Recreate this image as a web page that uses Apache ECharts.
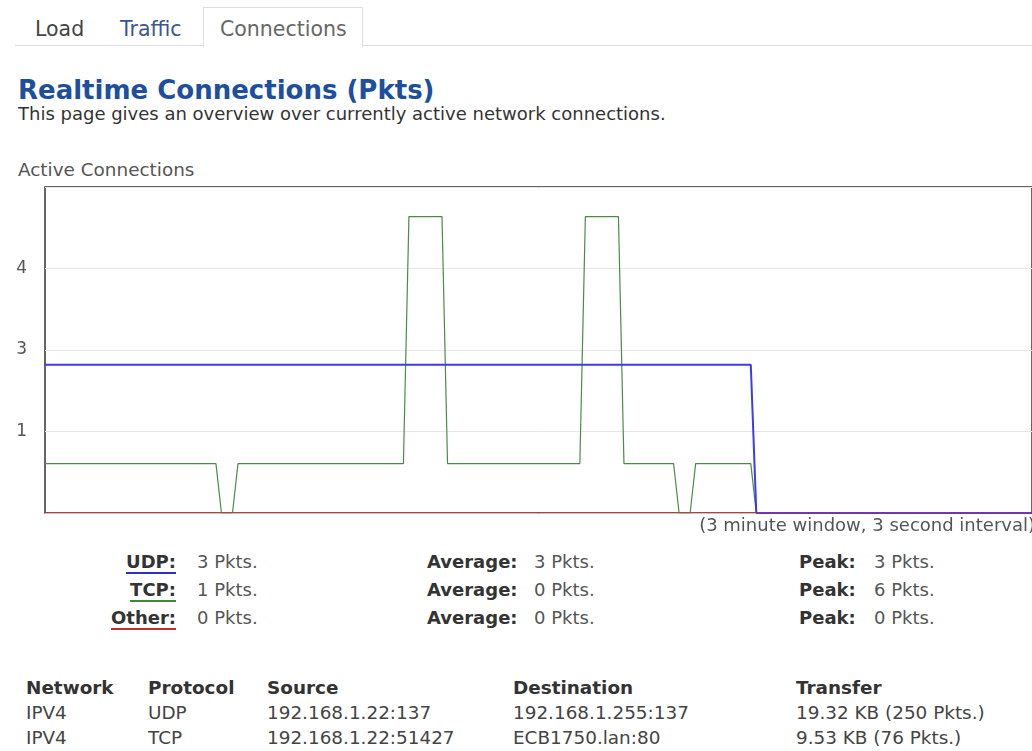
<!DOCTYPE html>
<html>
<head>
<meta charset="utf-8">
<title>Realtime Connections</title>
<script src="https://cdn.jsdelivr.net/npm/echarts@6/dist/echarts.min.js"></script>
<style>
    body { margin: 0; background: #fff; font-family: "DejaVu Sans", Verdana, sans-serif; color: #333; }
    #page { position: relative; width: 1032px; height: 751px; overflow: hidden; }
    .t { position: absolute; white-space: nowrap; line-height: 1; }
    .tabline { position: absolute; left: 15px; top: 45px; width: 1030px; height: 1px; background: #dedede; }
    .tab-active { position: absolute; left: 203px; top: 7px; width: 158px; height: 39px; border: 1px solid #dedede; border-bottom: 1px solid #fff; background: #fff; }
    .stat { font-size: 18px; }
    .lbl { font-weight: bold; color: #333; }
    .val { color: #555; }
    .head { font-weight: bold; color: #333; font-size: 18.4px; }
    .cell { color: #444; font-size: 18.4px; }
    #main { position: absolute; left: 0; top: 180px; width: 1032px; height: 340px; }
</style>
</head>
<body>
<div id="page">
    <div class="tabline"></div>
    <div class="tab-active"></div>
    <div class="t" style="left:35px;top:19px;font-size:20.5px;color:#444;">Load</div>
    <div class="t" style="left:120px;top:19px;font-size:20.5px;color:#3d5590;">Traffic</div>
    <div class="t" style="left:220px;top:19px;font-size:20.5px;color:#666;">Connections</div>

    <div class="t" style="left:18px;top:77px;font-size:26px;font-weight:bold;color:#1d4f9e;">Realtime Connections (Pkts)</div>
    <div class="t" style="left:18px;top:105px;font-size:18px;color:#333;">This page gives an overview over currently active network connections.</div>
    <div class="t" style="left:18px;top:161px;font-size:18.4px;color:#555;">Active Connections</div>

    <div id="main"></div>
    <div class="t" style="right:-3px;top:516px;font-size:18px;color:#555;">(3 minute window, 3 second interval)</div>

    <!-- stats -->
    <div class="t stat" style="right:856px;top:553px;"><span class="lbl" style="border-bottom:2px solid #3030c0;">UDP:</span></div>
    <div class="t stat val" style="left:197px;top:553px;">3 Pkts.</div>
    <div class="t stat" style="right:856px;top:581px;"><span class="lbl" style="border-bottom:2px solid #3a8a3a;">TCP:</span></div>
    <div class="t stat val" style="left:197px;top:581px;">1 Pkts.</div>
    <div class="t stat" style="right:856px;top:609px;"><span class="lbl" style="border-bottom:2px solid #c03030;">Other:</span></div>
    <div class="t stat val" style="left:197px;top:609px;">0 Pkts.</div>

    <div class="t stat lbl" style="left:427px;top:553px;">Average:</div>
    <div class="t stat val" style="left:534px;top:553px;">3 Pkts.</div>
    <div class="t stat lbl" style="left:427px;top:581px;">Average:</div>
    <div class="t stat val" style="left:534px;top:581px;">0 Pkts.</div>
    <div class="t stat lbl" style="left:427px;top:609px;">Average:</div>
    <div class="t stat val" style="left:534px;top:609px;">0 Pkts.</div>

    <div class="t stat lbl" style="left:799px;top:553px;">Peak:</div>
    <div class="t stat val" style="left:874px;top:553px;">3 Pkts.</div>
    <div class="t stat lbl" style="left:799px;top:581px;">Peak:</div>
    <div class="t stat val" style="left:874px;top:581px;">6 Pkts.</div>
    <div class="t stat lbl" style="left:799px;top:609px;">Peak:</div>
    <div class="t stat val" style="left:874px;top:609px;">0 Pkts.</div>

    <!-- connection table -->
    <div class="t head" style="left:26px;top:679px;">Network</div>
    <div class="t head" style="left:148px;top:679px;">Protocol</div>
    <div class="t head" style="left:267px;top:679px;">Source</div>
    <div class="t head" style="left:513px;top:679px;">Destination</div>
    <div class="t head" style="left:796px;top:679px;">Transfer</div>

    <div class="t cell" style="left:26px;top:704px;">IPV4</div>
    <div class="t cell" style="left:148px;top:704px;">UDP</div>
    <div class="t cell" style="left:267px;top:704px;">192.168.1.22:137</div>
    <div class="t cell" style="left:513px;top:704px;">192.168.1.255:137</div>
    <div class="t cell" style="left:796px;top:704px;">19.32 KB (250 Pkts.)</div>

    <div class="t cell" style="left:26px;top:729px;">IPV4</div>
    <div class="t cell" style="left:148px;top:729px;">TCP</div>
    <div class="t cell" style="left:267px;top:729px;">192.168.1.22:51427</div>
    <div class="t cell" style="left:513px;top:729px;">ECB1750.lan:80</div>
    <div class="t cell" style="left:796px;top:729px;">9.53 KB (76 Pkts.)</div>
</div>

<script>
    // samples, oldest first (one per step of the graph)
    var udpData = [
        3,3,3,3,3,3,3,3,3,3,3,3,3,3,3,3,3,3,3,3,
        3,3,3,3,3,3,3,3,3,3,3,3,3,3,3,3,3,3,3,3,
        3,3,3,3,3,3,3,3,3,3,3,3,3,3,3,3,3,3,3,3,
        3,3,3,3,3,3,3,3,3,3,3,3,3,3,3,3,3,3,3,3,
        3,3,3,3,3,3,3,3,3,3,3,3,3,3,3,3,3,3,3,3,
        3,3,3,3,3,3,3,3,3,3,3,3,3,3,3,3,3,3,3,3,
        3,3,3,3,3,3,3,3,3,0,0,0,0,0,0,0,0,0,0,0,
        0,0,0,0,0,0,0,0,0,0,0,0,0,0,0,0,0,0,0,0,
        0,0,0,0,0,0,0,0,0,0,0,0,0,0,0,0,0,0,0,0
    ];
    var tcpData = [
        1,1,1,1,1,1,1,1,1,1,1,1,1,1,1,1,1,1,1,1,
        1,1,1,1,1,1,1,1,1,1,1,1,0,0,0,1,1,1,1,1,
        1,1,1,1,1,1,1,1,1,1,1,1,1,1,1,1,1,1,1,1,
        1,1,1,1,1,1,6,6,6,6,6,6,6,1,1,1,1,1,1,1,
        1,1,1,1,1,1,1,1,1,1,1,1,1,1,1,1,1,1,6,6,
        6,6,6,6,6,1,1,1,1,1,1,1,1,1,1,0,0,0,1,1,
        1,1,1,1,1,1,1,1,1,0,0,0,0,0,0,0,0,0,0,0,
        0,0,0,0,0,0,0,0,0,0,0,0,0,0,0,0,0,0,0,0,
        0,0,0,0,0,0,0,0,0,0,0,0,0,0,0,0,0,0,0,0
    ];
    var otherData = [
        0,0,0,0,0,0,0,0,0,0,0,0,0,0,0,0,0,0,0,0,
        0,0,0,0,0,0,0,0,0,0,0,0,0,0,0,0,0,0,0,0,
        0,0,0,0,0,0,0,0,0,0,0,0,0,0,0,0,0,0,0,0,
        0,0,0,0,0,0,0,0,0,0,0,0,0,0,0,0,0,0,0,0,
        0,0,0,0,0,0,0,0,0,0,0,0,0,0,0,0,0,0,0,0,
        0,0,0,0,0,0,0,0,0,0,0,0,0,0,0,0,0,0,0,0,
        0,0,0,0,0,0,0,0,0,0,0,0,0,0,0,0,0,0,0,0,
        0,0,0,0,0,0,0,0,0,0,0,0,0,0,0,0,0,0,0,0,
        0,0,0,0,0,0,0,0,0,0,0,0,0,0,0,0,0,0,0,0
    ];
    // labels shown at 0, 25%, 50%, 75%, 100% of the height
    var yTickLabels = ['', '1', '3', '4', ''];
    var dataPeak = 6;

    var steps = [];
    for (var i = 0; i < udpData.length; i++) steps.push(i);

    var yMax = dataPeak * 1.1;

    var chart = echarts.init(document.getElementById('main'));
    var option = {
        animation: false,
        grid: {
            left: 45, right: -2, top: 7, bottom: 7,
            show: true,
            borderColor: '#333',
            borderWidth: 1.5,
            backgroundColor: '#fff'
        },
        xAxis: {
            type: 'category',
            data: steps,
            boundaryGap: false,
            axisLine: {show: false},
            axisTick: {show: false},
            axisLabel: {show: false},
            splitLine: {show: false}
        },
        yAxis: {
            type: 'value',
            min: 0,
            max: yMax,
            interval: yMax / 4,
            axisLine: {show: false},
            axisTick: {show: false},
            axisLabel: {
                margin: 18,
                fontSize: 17,
                color: '#555',
                fontFamily: 'DejaVu Sans',
                formatter: function (v, idx) { return yTickLabels[idx] || ''; }
            },
            splitLine: {show: true, lineStyle: {color: '#e6e6e6', width: 1}}
        },
        series: [
            {
                name: 'TCP', type: 'line', data: tcpData,
                showSymbol: false, symbol: 'none',
                lineStyle: {color: '#4a8a4a', width: 1.2}
            },
            {
                name: 'UDP', type: 'line', data: udpData,
                showSymbol: false, symbol: 'none',
                lineStyle: {color: '#3b3bf0', width: 2}
            },
            {
                name: 'Other', type: 'line', data: otherData,
                showSymbol: false, symbol: 'none',
                lineStyle: {color: '#d03030', width: 1}
            }
        ]
    };
    chart.setOption(option);
</script>
</body>
</html>
